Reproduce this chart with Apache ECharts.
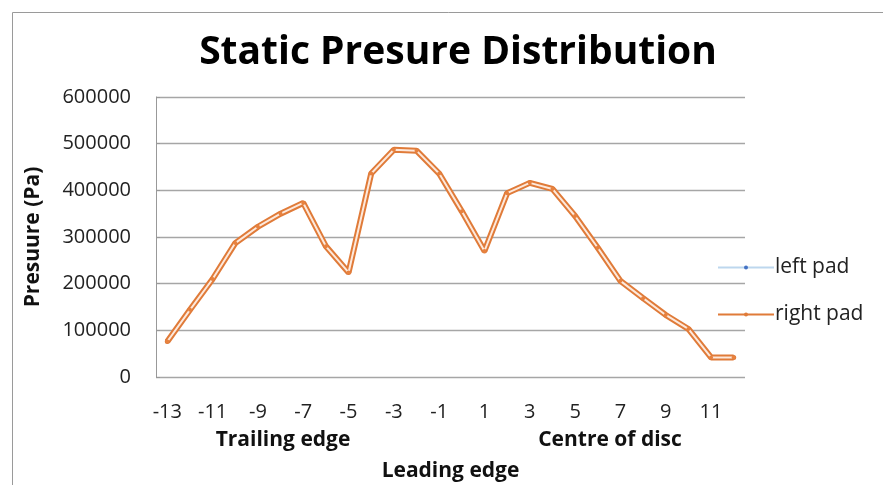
<!DOCTYPE html>
<html><head><meta charset="utf-8">
<script src="https://cdn.jsdelivr.net/npm/echarts@6/dist/echarts.min.js"></script>
<style>html,body{margin:0;padding:0;background:#fff}#c{width:883px;height:485px}</style>
</head><body><div id="c"></div>
<script>
const categories = ['-13','-12','-11','-10','-9','-8','-7','-6','-5','-4','-3','-2','-1','0','1','2','3','4','5','6','7','8','9','10','11','12'];
const rightPad = [76000,144000,210000,287000,322000,350000,373000,280000,224000,436000,487000,485000,436000,355000,270000,394000,416000,403000,345000,277000,206000,169000,133000,103000,42000,42000];
const leftPad = rightPad.slice();
const yTicks = [0,100000,200000,300000,400000,500000,600000];
const titleText = 'Static Presure Distribution';
const yName = 'Presuure (Pa)';
const xNames = ['Trailing edge','Centre of disc','Leading edge'];

const font = '"Open Sans", sans-serif';
const chart = echarts.init(document.getElementById('c'));
chart.setOption({
  animation:false,
  backgroundColor:'#fff',
  title:{text:titleText,left:453,textAlign:'center',top:28,
    textStyle:{fontFamily:font,fontWeight:'bold',fontSize:39,color:'#000'}},
  grid:{left:156,right:138,top:97,height:280,containLabel:false,outerBoundsMode:'none'},
  legend:{orient:'vertical',left:712,top:252,itemGap:26,itemWidth:56,itemHeight:5,
    data:[{name:'left pad'},{name:'right pad'}],
    textStyle:{fontFamily:font,fontSize:21,color:'#222',padding:[0,0,0,-4]}},
  xAxis:{type:'category',data:categories,boundaryGap:true,
    axisLine:{show:false},axisTick:{show:false},
    axisLabel:{interval:1,fontFamily:font,fontSize:20,color:'#222',margin:25,
      formatter:v=>v},
    name:xNames[2],nameLocation:'middle',nameGap:84,
    nameTextStyle:{fontFamily:font,fontWeight:'bold',fontSize:21,color:'#111'}},
  yAxis:{type:'value',min:yTicks[0],max:yTicks[yTicks.length-1],interval:100000,
    axisLine:{show:true,lineStyle:{color:'#999',width:1}},
    axisTick:{show:true,inside:true,length:4,lineStyle:{color:'#999'}},
    splitLine:{lineStyle:{color:'#a6a6a6',width:1.3}},
    axisLabel:{fontFamily:font,fontSize:20,color:'#222',margin:25,formatter:v=>String(v)},
    name:yName,nameLocation:'middle',nameGap:112,nameRotate:90,
    nameTextStyle:{fontFamily:font,fontWeight:'bold',fontSize:21,color:'#111'}},
  graphic:[
    {type:'rect',left:10,top:10,shape:{width:900,height:500},style:{fill:'none',stroke:'#9a9a9a',lineWidth:1},silent:true},
    {type:'text',x:283,y:430,style:{text:xNames[0],fontFamily:font,fontWeight:'bold',fontSize:21,fill:'#111',textAlign:'center'}},
    {type:'text',x:610,y:430,style:{text:xNames[1],fontFamily:font,fontWeight:'bold',fontSize:21,fill:'#111',textAlign:'center'}}
  ],
  series:[
    {name:'left pad',type:'line',data:leftPad,color:'#9dc3e6',
      lineStyle:{width:4,color:'#bdd7ee'},symbol:'circle',symbolSize:4,itemStyle:{color:'#4472c4'}},
    {name:'right pad',type:'line',data:rightPad,color:'#e07b39',
      lineStyle:{width:6,color:'#e07b39'},symbol:'circle',symbolSize:5,itemStyle:{color:'#e07b39'}},
    {name:'core',type:'line',data:rightPad,lineStyle:{width:2,color:'#fde9dc'},
      symbol:'circle',symbolSize:4,itemStyle:{color:'#e8823f'},z:5}
  ]
});
</script></body></html>
